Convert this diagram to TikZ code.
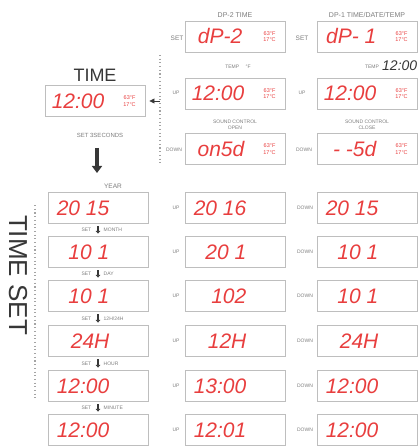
\documentclass[tikz,border=0pt]{standalone}
\usepackage{fontspec}
\setmainfont{Liberation Sans}
\newfontfamily\seg{Liberation Sans}
\usetikzlibrary{arrows.meta}
\definecolor{segred}{RGB}{232,62,62}
\definecolor{boxgray}{RGB}{190,190,190}
\definecolor{labgray}{RGB}{125,125,125}
\definecolor{darkt}{RGB}{55,55,55}
\tikzset{
 lcd/.style={draw=boxgray, line width=0.9pt, minimum width=100pt, minimum height=31pt, inner sep=0pt},
 digits/.style={text=segred, font=\seg\itshape\fontsize{21}{21}\selectfont, anchor=east, inner sep=0pt},
 ind/.style={text=segred, font=\fontsize{5.5}{6.5}\selectfont, align=center, inner sep=0pt},
 lab/.style={text=labgray, font=\fontsize{5}{6}\selectfont, inner sep=0.5pt, align=center},
 btn/.style={text=labgray, font=\fontsize{5}{6}\selectfont, inner sep=0pt},
 smallarrow/.style={darkt, line width=1.8pt, -{Triangle[length=2.6pt,width=4.6pt]}, shorten <=2.5pt, shorten >=2.5pt},
 bigarrow/.style={darkt, line width=3.6pt, -{Triangle[length=7pt,width=10pt]}},
 dotline/.style={labgray!70, line width=1.1pt, dash pattern=on 1.1pt off 2.6pt},
 backarrow/.style={darkt, line width=0.8pt, -{Triangle[length=5pt,width=5pt]}, shorten >=4pt},
}
\begin{document}
\begin{tikzpicture}[x=1pt,y=-1pt]
\useasboundingbox (0,0) rectangle (419,446);
% ---------- top left TIME ----------
\node[text=darkt, font=\fontsize{18}{18}\selectfont, inner sep=0pt] (timelab) at (95,75) {TIME};
\node[lcd] (T) at (95,101) {};
\node[digits] (Td) at ([xshift=60pt]T.west) {12:00};
\node[ind] (Ti) at ([xshift=85pt]T.west) {63°F\\17°C};
\node[lab, font=\fontsize{6}{6}\selectfont] (set3) at (100,135) {SET 3SECONDS};
\coordinate (ba1) at (97,148);
\coordinate (ba2) at (97,173);
\draw[bigarrow] (ba1) -- (ba2);
\node[lab, font=\fontsize{6.5}{6.5}\selectfont] (year) at (113,186) {YEAR};
% ---------- TIME SET ----------
\node[text=darkt, font=\fontsize{26}{26}\selectfont, rotate=-90, inner sep=0pt] (tset) at (18,275) {TIME SET};
\draw[dotline] (35,205) -- (35,398);
% ---------- top right displays ----------
\node[lab, font=\fontsize{7}{7}\selectfont] (dp2) at (235,15) {DP-2 TIME};
\node[lab, font=\fontsize{7}{7}\selectfont] (dp1) at (367,15) {DP-1 TIME/DATE/TEMP};
\node[lcd] (Ma) at (235,36.5) {};
\node[digits] at ([xshift=58pt]Ma.west) {dP-2};
\node[ind] at ([xshift=85pt]Ma.west) {63°F\\17°C};
\node[lcd] (Ra) at (367,36.5) {};
\node[digits] at ([xshift=60pt]Ra.west) {dP- 1};
\node[ind] at ([xshift=85pt]Ra.west) {63°F\\17°C};
\node[btn, font=\fontsize{6.5}{6.5}\selectfont] at (177,38) {SET};
\node[btn, font=\fontsize{6.5}{6.5}\selectfont] at (302,38) {SET};
\node[lab] (tempF) at (238,67) {TEMP \quad °F};
\node[lab] (tempR) at (372,67) {TEMP};
\node[text=darkt, font=\seg\itshape\fontsize{14}{14}\selectfont, anchor=west, inner sep=0pt] (tempRv) at (382,66) {12:00};
\node[lcd] (Mb) at (235,93.5) {};
\node[digits] at ([xshift=60pt]Mb.west) {12:00};
\node[ind] at ([xshift=85pt]Mb.west) {63°F\\17°C};
\node[lcd] (Rb) at (367,93.5) {};
\node[digits] at ([xshift=60pt]Rb.west) {12:00};
\node[ind] at ([xshift=85pt]Rb.west) {63°F\\17°C};
\node[btn] at (176,93) {UP};
\node[btn] at (302,93) {UP};
\node[lab] (sopen) at (235,125) {SOUND CONTROL\\OPEN};
\node[lab] (sclose) at (367,125) {SOUND CONTROL\\CLOSE};
\node[lcd] (Mc) at (235,149) {};
\node[digits] at ([xshift=60pt]Mc.west) {on5d};
\node[ind] at ([xshift=85pt]Mc.west) {63°F\\17°C};
\node[lcd] (Rc) at (367,149) {};
\node[digits] at ([xshift=60pt]Rc.west) {- -5d};
\node[ind] at ([xshift=85pt]Rc.west) {63°F\\17°C};
\node[btn] at (174,150) {DOWN};
\node[btn] at (304,150) {DOWN};
\draw[dotline] (160,55) -- (160,163);
\coordinate (jn) at (160,101);
\draw[backarrow] (jn) -- (T.east);
% ---------- rows ----------
\foreach \i/\y/\l/\m/\r in {1/208/{20 15}/{20 16}/{20 15}, 2/252/{10 1}/{20 1}/{10 1}, 3/296/{10 1}/102/{10 1}, 4/341/24H/12H/24H, 5/386/12:00/13:00/12:00, 6/430/12:00/12:01/12:00}{
  \node[lcd] (L\i) at (98,\y) {};
  \node[digits] at ([xshift=62pt]L\i.west) {\l};
  \node[lcd] (M\i) at (235,\y) {};
  \node[digits] at ([xshift=62pt]M\i.west) {\m};
  \node[btn] at (176,\y) {UP};
  \node[lcd] (R\i) at (367,\y) {};
  \node[digits] at ([xshift=62pt]R\i.west) {\r};
  \node[btn] at (305,\y) {DOWN};
}
\foreach \a/\b/\t in {1/2/MONTH, 2/3/DAY, 3/4/{12H/24H}, 4/5/HOUR, 5/6/MINUTE}{
  \draw[smallarrow] (L\a.south) -- (L\b.north);
  \path (L\a.south) -- (L\b.north) coordinate[midway] (mid\a);
  \node[lab, anchor=east] at ([xshift=-6pt]mid\a) {SET};
  \node[lab, anchor=west] at ([xshift=5pt]mid\a) {\t};
}
\end{tikzpicture}
\end{document}
